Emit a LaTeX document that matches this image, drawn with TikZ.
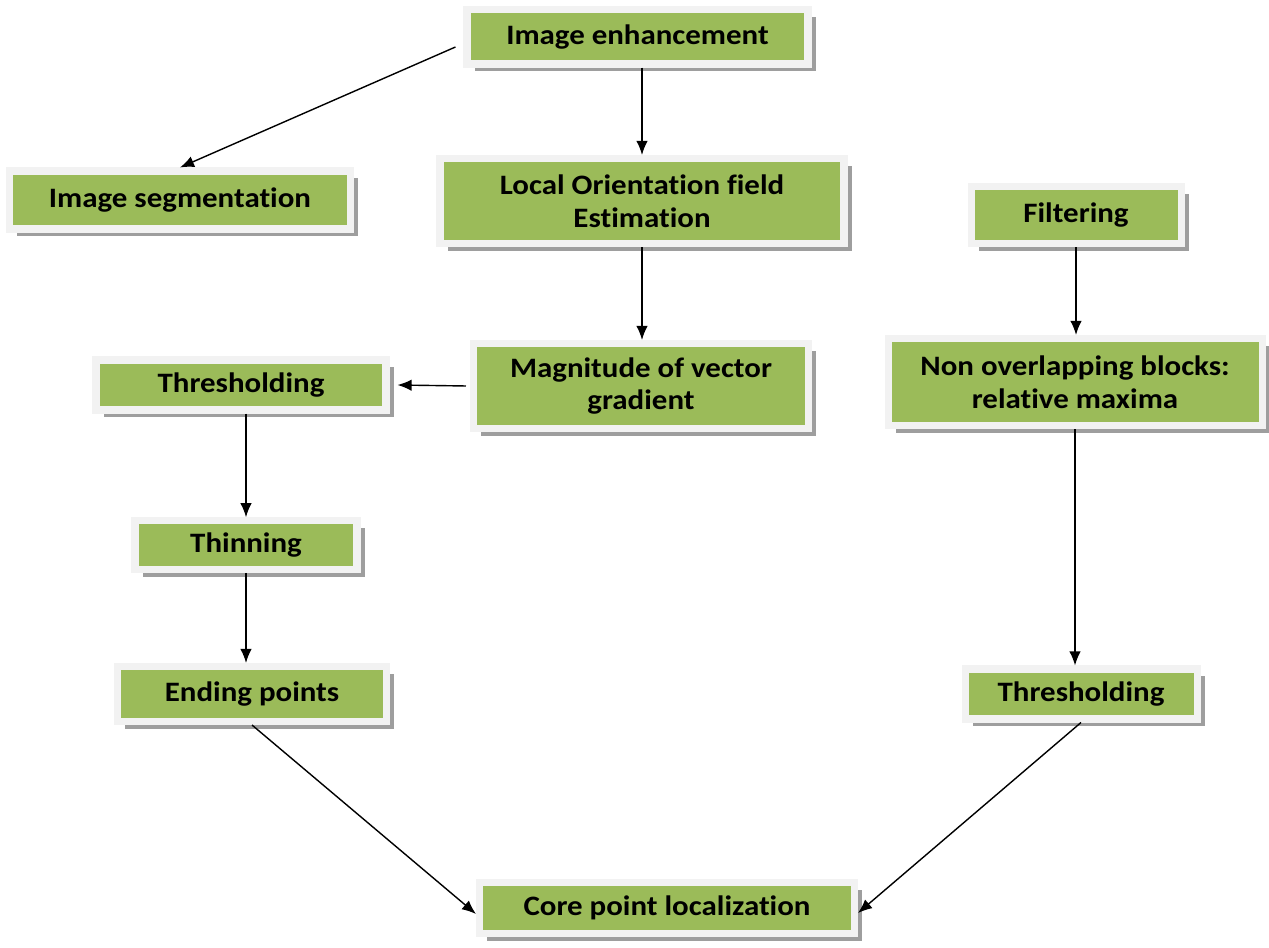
\documentclass[tikz,border=0pt]{standalone}
\usepackage{fontspec}
\newfontfamily\boxfont{Carlito}[FakeStretch=1.1,Ligatures=NoCommon]
\usetikzlibrary{shadows,arrows.meta}
\definecolor{stepgreen}{HTML}{9BBB59}
\definecolor{stepframe}{HTML}{F2F2F2}
\tikzset{
  stage/.style={draw=stepframe,line width=4pt,fill=stepgreen,
    drop shadow={shadow xshift=0.15cm,shadow yshift=-0.15cm,fill=black!38,opacity=1},
    align=center,inner sep=0pt,
    font=\boxfont\bfseries\fontsize{16}{18.5}\selectfont},
  flow/.style={line width=0.8pt,-{Latex[length=8pt,width=6.5pt]}}
}

\begin{document}
\begin{tikzpicture}
      \useasboundingbox (0,0) rectangle (25.38,18.94);

      \node[stage,minimum width=6.82cm,minimum height=1.08cm] (enhance) at (12.75,18.20) {Image enhancement};
      \node[stage,minimum width=6.82cm,minimum height=1.16cm] (segment) at (3.60,14.94) {Image segmentation};
      \node[stage,minimum width=8.08cm,minimum height=1.70cm] (orient) at (12.84,14.92) {Local Orientation field\\Estimation};
      \node[stage,minimum width=4.20cm,minimum height=1.14cm] (filter) at (21.52,14.64) {Filtering};
      \node[stage,minimum width=6.70cm,minimum height=1.70cm] (magnitude) at (12.82,11.22) {Magnitude of vector\\gradient};
      \node[stage,minimum width=7.48cm,minimum height=1.74cm] (blocks) at (21.50,11.30) {Non overlapping blocks:\\relative maxima};
      \node[stage,minimum width=5.80cm,minimum height=1.00cm] (threshleft) at (4.82,11.24) {Thresholding};
      \node[stage,minimum width=4.44cm,minimum height=0.97cm] (thinning) at (4.92,8.04) {Thinning};
      \node[stage,minimum width=5.38cm,minimum height=1.10cm] (ending) at (5.04,5.06) {Ending points};
      \node[stage,minimum width=4.64cm,minimum height=1.00cm] (threshright) at (21.62,5.06) {Thresholding};
      \node[stage,minimum width=7.50cm,minimum height=1.02cm] (core) at (13.34,0.78) {Core point localization};

      % left branch
      \draw[flow] ([xshift=-0.16cm,yshift=-0.2cm]enhance.west) -- (segment.north);
      \draw[flow] (enhance.south -| orient.north) -- (orient.north);
      \draw[flow] (orient.south) -- (orient.south |- magnitude.north);
      \draw[flow] ([xshift=-0.08cm]magnitude.west) -- ([xshift=0.16cm]threshleft.east);
      \draw[flow] (threshleft.south -| thinning.north) -- (thinning.north);
      \draw[flow] (thinning.south) -- (thinning.south |- ending.north);
      \draw[flow] (ending.south) -- ([yshift=-0.12cm]core.west);

      % right branch
      \draw[flow] (filter.south) -- (filter.south |- blocks.north);
      \draw[flow] (blocks.south) -- (blocks.south |- threshright.north);
      \draw[flow] (threshright.south) -- ([yshift=-0.1cm]core.east);
    \end{tikzpicture}
\end{document}
